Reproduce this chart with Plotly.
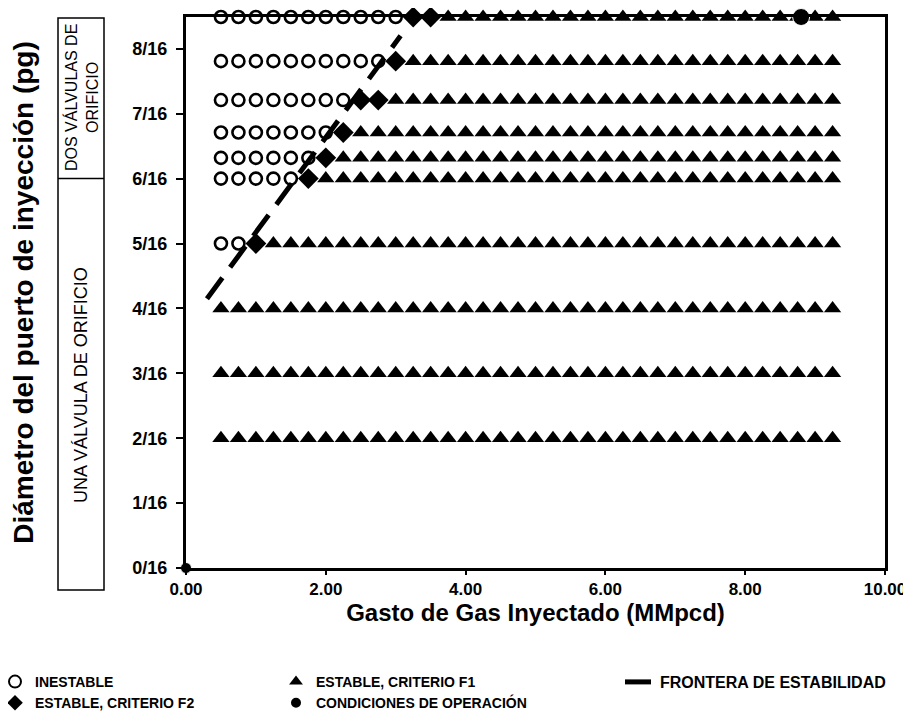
import plotly.graph_objects as go

# ---------------- data ----------------
# x: injected gas rate (MMpcd) evaluated for every diameter
GASTO = [0.50, 0.75, 1.00, 1.25, 1.50, 1.75, 2.00, 2.25, 2.50, 2.75, 3.00, 3.25,
         3.50, 3.75, 4.00, 4.25, 4.50, 4.75, 5.00, 5.25, 5.50, 5.75, 6.00, 6.25,
         6.50, 6.75, 7.00, 7.25, 7.50, 7.75, 8.00, 8.25, 8.50, 8.75, 9.00, 9.25]
# y: injection port diameter (in sixteenths of an inch)
DIAMETRO = [2, 3, 4, 5, 6, 6.32, 6.71, 7.21, 7.81, 8.49]
# last unstable gas rate for each diameter (None = no unstable point)
INESTABLE_HASTA = [None, None, None, 0.75, 1.50, 1.75, 2.00, 2.25, 2.75, 3.00]
# gas rates classified as stable by criterion F2 for each diameter
F2_GASTOS = [[], [], [], [1.00], [1.75], [2.00], [2.25], [2.50, 2.75], [3.00], [3.25, 3.50]]
# operating conditions
OPER_GASTO = [0.0, 8.8]
OPER_DIAM = [0.0, 8.49]
# stability frontier
FRONTERA_GASTO = [0.30, 3.07]
FRONTERA_DIAM = [4.15, 8.20]
# tick labels
Y_TICKS = [0, 1, 2, 3, 4, 5, 6, 7, 8]
Y_TICK_TEXT = ["0/16", "1/16", "2/16", "3/16", "4/16", "5/16", "6/16", "7/16", "8/16"]
X_TICKS = [0, 2, 4, 6, 8, 10]

# ---------------- classification ----------------
inest_x, inest_y, f1_x, f1_y, f2_x, f2_y = [], [], [], [], [], []
for d, lim, f2 in zip(DIAMETRO, INESTABLE_HASTA, F2_GASTOS):
    for g in GASTO:
        if lim is not None and g <= lim:
            inest_x.append(g); inest_y.append(d)
        elif g in f2:
            f2_x.append(g); f2_y.append(d)
        else:
            f1_x.append(g); f1_y.append(d)

# the page places the figure 8 px from the top-left corner of the window
OFF = 8
W, H = 911 - OFF, 714 - OFF
L, T = 186 - OFF, 17 - OFF
R, B = W - (885 - OFF), H - (568 - OFF)
pw, ph = W - L - R, H - T - B


def px_x(px):          # window pixel -> paper x
    return (px - OFF - L) / pw


def px_y(py):          # window pixel -> paper y
    return (H - B - (py - OFF)) / ph


FONT = "Liberation Sans, Arial, sans-serif"

fig = go.Figure()
fig.add_trace(go.Scatter(
    x=inest_x, y=inest_y, mode="markers", name="INESTABLE", legend="legend",
    marker=dict(symbol="circle-open", size=12, color="black", line=dict(width=2.6, color="black")),
    cliponaxis=False))
fig.add_trace(go.Scatter(
    x=f1_x, y=f1_y, mode="markers", name="ESTABLE, CRITERIO F1", legend="legend2",
    marker=dict(symbol="triangle-up", size=15, color="black"), cliponaxis=False))
fig.add_trace(go.Scatter(
    x=FRONTERA_GASTO, y=FRONTERA_DIAM, mode="lines", name="FRONTERA DE ESTABILIDAD", legend="legend3",
    line=dict(color="black", width=5, dash="26px,13px")))
fig.add_trace(go.Scatter(
    x=f2_x, y=f2_y, mode="markers", name="ESTABLE, CRITERIO F2", legend="legend",
    marker=dict(symbol="diamond", size=16, color="black"), cliponaxis=False))
fig.add_trace(go.Scatter(
    x=OPER_GASTO, y=OPER_DIAM, mode="markers", name="CONDICIONES DE OPERACIÓN", legend="legend2",
    marker=dict(symbol="circle", size=[11, 17], color="black", opacity=1), cliponaxis=False))

legend_common = dict(orientation="v",
                     itemsizing="constant", itemwidth=30, tracegroupgap=0,
                     bgcolor="rgba(0,0,0,0)", yanchor="top", xanchor="left")
LEG_FONT = dict(family=FONT, size=14, color="black", weight="bold")

fig.update_layout(
    width=W, height=H,
    margin=dict(l=L, r=R, t=T, b=B, autoexpand=False),
    paper_bgcolor="white", plot_bgcolor="white",
    showlegend=True,
    legend=dict(x=px_x(-5), y=px_y(666), font=LEG_FONT, **legend_common),
    legend2=dict(x=px_x(276), y=px_y(666), font=LEG_FONT, **legend_common),
    legend3=dict(x=px_x(620), y=px_y(665), font=dict(LEG_FONT, size=16), **legend_common),
    xaxis=dict(range=[0, 10], tickvals=X_TICKS, tickformat=".2f",
               showgrid=False, zeroline=False,
               showline=True, linewidth=3, linecolor="black", mirror=True,
               ticks="outside", ticklen=4, tickwidth=2, tickcolor="black",
               tickfont=dict(family=FONT, size=17, color="black", weight="bold"),
               title=dict(text="Gasto de Gas Inyectado (MMpcd)", standoff=1,
                          font=dict(family=FONT, size=24, color="black", weight="bold"))),
    yaxis=dict(range=[0, 8.49], tickvals=Y_TICKS, ticktext=Y_TICK_TEXT,
               showgrid=False, zeroline=False,
               showline=True, linewidth=3, linecolor="black", mirror=True,
               ticks="outside", ticklen=7, tickwidth=2, tickcolor="black",
               ticklabelstandoff=5,
               tickfont=dict(family=FONT, size=18, color="black", weight="bold"),
               title=dict(text="Diámetro del puerto de inyección (pg)", standoff=100,
                          font=dict(family=FONT, size=28, color="black", weight="bold"))),
    shapes=[
        dict(type="rect", xref="paper", yref="paper", x0=px_x(58), x1=px_x(104),
             y0=px_y(590), y1=px_y(18), line=dict(color="black", width=1.5)),
        dict(type="line", xref="paper", yref="y", x0=px_x(58), x1=px_x(104),
             y0=6, y1=6, line=dict(color="black", width=1.5)),
    ],
    annotations=[
        dict(text="DOS VÁLVULAS DE<br>ORIFICIO", xref="paper", yref="paper",
             x=px_x(81), y=px_y(98), xanchor="center", yanchor="middle",
             showarrow=False, textangle=-90,
             font=dict(family=FONT, size=16, color="black")),
        dict(text="UNA VÁLVULA DE ORIFICIO", xref="paper", yref="paper",
             x=px_x(81), y=px_y(385), xanchor="center", yanchor="middle",
             showarrow=False, textangle=-90,
             font=dict(family=FONT, size=18, color="black")),
    ],
)

fig.write_html("out.html")
